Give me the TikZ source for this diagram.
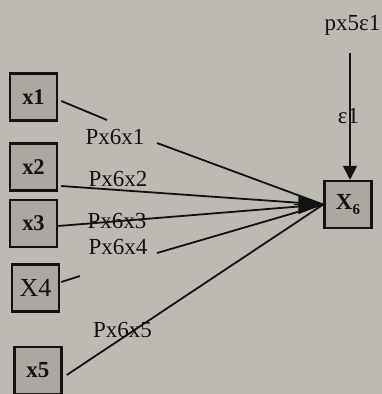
\documentclass[tikz,border=0pt]{standalone}
\usepackage{fontspec}
\setmainfont{Liberation Serif}
\usetikzlibrary{arrows.meta,calc}
\definecolor{paper}{HTML}{BDBAB4}
\definecolor{boxfill}{HTML}{ABA8A2}
\definecolor{ink}{HTML}{121212}
\tikzset{
  var/.style={draw=ink, line width=2.5pt, fill=boxfill, minimum width=47pt,
    minimum height=47pt, inner sep=0pt, text=ink},
  lbl/.style={anchor=base, inner sep=0pt, text=ink, font=\fontsize{23}{24}\selectfont},
  path/.style={draw=ink, line width=1.8pt},
}
\begin{document}
\begin{tikzpicture}[x=1pt, y=-1pt]
\fill[paper] (0,0) rectangle (382,394);
\useasboundingbox (0,0) rectangle (382,394);

% observed variables
\node[var, font=\bfseries\fontsize{22.5}{22}\selectfont] (x1) at (33.5,97) {x1};
\node[var, font=\bfseries\fontsize{22.5}{22}\selectfont] (x2) at (33.5,167) {x2};
\node[var, font=\bfseries\fontsize{22.5}{22}\selectfont] (x3) at (33.5,223.5) {x3};
\node[var, font=\fontsize{26}{26}\selectfont] (x4) at (35.5,288) {X4};
\node[var, font=\bfseries\fontsize{23}{22}\selectfont] (x5) at (38,370.5) {x5};
\node[var, font=\bfseries\fontsize{23}{22}\selectfont] (x6) at (348,204.5)
  {X\raisebox{-5pt}{\fontsize{15}{15}\selectfont 6}};

% break points around the path labels
\coordinate (g1a) at (107,120);
\coordinate (g1b) at (157,143);
\coordinate (g4a) at (80,276);
\coordinate (g4b) at (157,253);
\coordinate (ahead) at (294,204.5);
\coordinate (etop) at (350,53);

% paths into X6
\draw[path] ($(x1.east)+(3,4)$) -- (g1a);
\draw[path] (g1b) -- (x6.west);
\draw[path] ($(x2.east)+(3,19)$) -- (x6.west);
\draw[path] ($(x3.east)+(0,2.5)$) -- (x6.west);
\draw[path] ($(x4.east)+(1,-6)$) -- (g4a);
\draw[path] (g4b) -- (x6.west);
\draw[path] ($(x5.east)+(4,4.5)$) -- (x6.west);
\draw[path, -{Triangle[length=25pt,width=19pt]}] (ahead) -- (x6.west);

% error term
\draw[path, -{Triangle[length=14pt,width=14pt]}] (etop) -- (etop |- x6.north);

% coefficient labels
\node[lbl] (p1) at (115,144) {Px6x1};
\node[lbl] (p2) at (118,186) {Px6x2};
\node[lbl] (p3) at (117,228) {Px6x3};
\node[lbl] (p4) at (118,254) {Px6x4};
\node[lbl] (p5) at (122.5,337) {Px6x5};
\node[lbl] (pe) at (352.5,30) {px5ε1};
\node[lbl] (e1) at (348.5,123) {ε1};
\end{tikzpicture}
\end{document}
